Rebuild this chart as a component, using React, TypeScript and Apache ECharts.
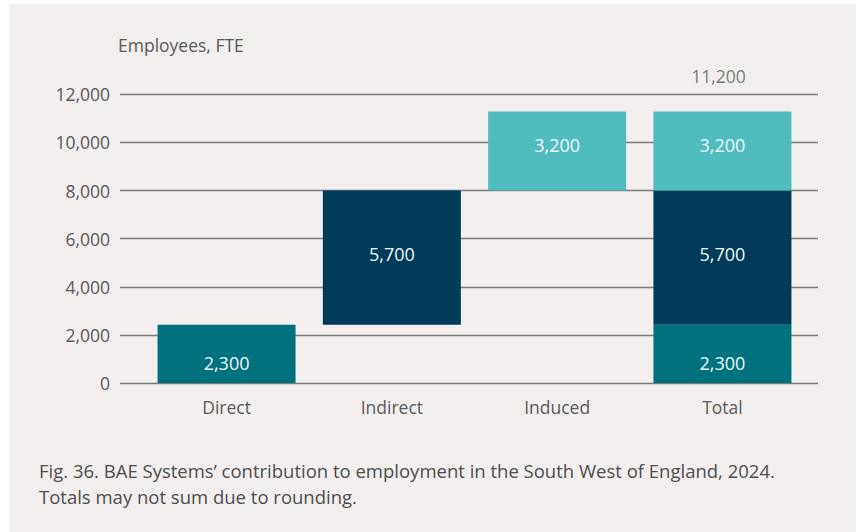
import React, { useEffect, useRef } from "react";
import * as echarts from "echarts";

// Categories on the x axis
const categories = ["Direct", "Indirect", "Induced", "Total"];
// Bar heights (FTE employees): direct, indirect, induced
const componentValues = [2420, 5580, 3290];
// Printed (rounded) labels shown in the bars
const componentLabels = ["2,300", "5,700", "3,200"];
const totalLabel = "11,200";
// Y axis ticks
const yMin = 0;
const yMax = 12000;
const yInterval = 2000;

const captionLines = [
  "Fig. 36. BAE Systems\u2019 contribution to employment in the South West of England, 2024.",
  "Totals may not sum due to rounding.",
];

const COLORS = ["#00717f", "#003b5c", "#51bcbd"];
const FONT = "'Open Sans', sans-serif";

export default function App() {
  const ref = useRef<HTMLDivElement>(null);

  useEffect(() => {
    if (!ref.current) return;
    const chart = echarts.init(ref.current, undefined, { renderer: "svg" });

    const [d, i, n] = componentValues;
    const total = d + i + n;
    const base = [0, d, d + i, 0];
    const directData = [d, "-", "-", d];
    const indirectData = ["-", i, "-", i];
    const inducedData = ["-", "-", n, n];
    const totalPoint = [null, null, null, total];

    const barLabel = (idx: number, dy: number) => ({
      show: true,
      position: "inside",
      offset: [0, dy],
      color: "#eef7f7",
      fontFamily: FONT,
      fontSize: 18,
      formatter: () => componentLabels[idx],
    });

    const option: any = {
      animation: false,
      backgroundColor: "#ffffff",
      graphic: [
        {
          type: "rect",
          z: -10,
          silent: true,
          shape: { x: 9, y: 4, width: 847, height: 530 },
          style: { fill: "#f2efee" },
        },
        {
          type: "text",
          left: 39,
          top: 457,
          style: {
            text: captionLines.join("\n"),
            fill: "#4d4d4d",
            font: `18.5px ${FONT}`,
            lineHeight: 26,
          },
        },
      ],
      grid: [
        { left: 120, right: 44, top: 94.3, bottom: 149 },
        { left: 143.9, right: 56.9, top: 94.3, bottom: 149 },
      ],
      xAxis: [
        { type: "value", gridIndex: 0, show: false, min: 0, max: 1 },
        {
          type: "category",
          gridIndex: 1,
          data: categories,
          axisLine: { show: false },
          axisTick: { show: false },
          axisLabel: {
            margin: 15,
            color: "#595959",
            fontFamily: FONT,
            fontSize: 17.5,
          },
        },
      ],
      yAxis: [
        {
          type: "value",
          gridIndex: 0,
          min: yMin,
          max: yMax,
          interval: yInterval,
          name: "Employees, FTE",
          nameLocation: "end",
          nameGap: 49,
          nameTextStyle: {
            align: "left",
            verticalAlign: "middle",
            color: "#595959",
            fontFamily: FONT,
            fontSize: 17.5,
            padding: [0, 0, 0, -2],
          },
          axisLine: { show: false },
          axisTick: { show: false },
          axisLabel: {
            margin: 10,
            color: "#595959",
            fontFamily: FONT,
            fontSize: 17.5,
            formatter: (v: number) => v.toLocaleString("en-GB"),
          },
          splitLine: { show: true, lineStyle: { color: "#7a7a7a", width: 1.3 } },
        },
        {
          type: "value",
          gridIndex: 1,
          min: yMin,
          max: yMax,
          interval: yInterval,
          show: false,
          splitLine: { show: false },
        },
      ],
      series: [
        {
          name: "base",
          type: "bar",
          stack: "w",
          xAxisIndex: 1,
          yAxisIndex: 1,
          barWidth: 138,
          silent: true,
          itemStyle: { color: "rgba(0,0,0,0)" },
          data: base,
          z: 3,
        },
        {
          name: "Direct",
          type: "bar",
          stack: "w",
          xAxisIndex: 1,
          yAxisIndex: 1,
          barWidth: 138,
          itemStyle: { color: COLORS[0] },
          label: barLabel(0, 9),
          data: directData,
          z: 3,
        },
        {
          name: "Indirect",
          type: "bar",
          stack: "w",
          xAxisIndex: 1,
          yAxisIndex: 1,
          barWidth: 138,
          itemStyle: { color: COLORS[1] },
          label: barLabel(1, -4),
          data: indirectData,
          z: 3,
        },
        {
          name: "Induced",
          type: "bar",
          stack: "w",
          xAxisIndex: 1,
          yAxisIndex: 1,
          barWidth: 138,
          itemStyle: { color: COLORS[2] },
          label: barLabel(2, -6),
          data: inducedData,
          z: 3,
        },
        {
          name: "TotalLabel",
          type: "scatter",
          xAxisIndex: 1,
          yAxisIndex: 1,
          symbolSize: 1,
          itemStyle: { color: "rgba(0,0,0,0)" },
          label: {
            show: true,
            position: "top",
            distance: 26,
            offset: [-4, 0],
            color: "#595959",
            fontFamily: FONT,
            fontSize: 17.5,
            formatter: () => totalLabel,
          },
          data: totalPoint,
          z: 4,
        },
      ],
    };

    chart.setOption(option);
    return () => chart.dispose();
  }, []);

  return (
    <div
      ref={ref}
      style={{ position: "absolute", left: 0, top: 0, width: 862, height: 532 }}
    />
  );
}
